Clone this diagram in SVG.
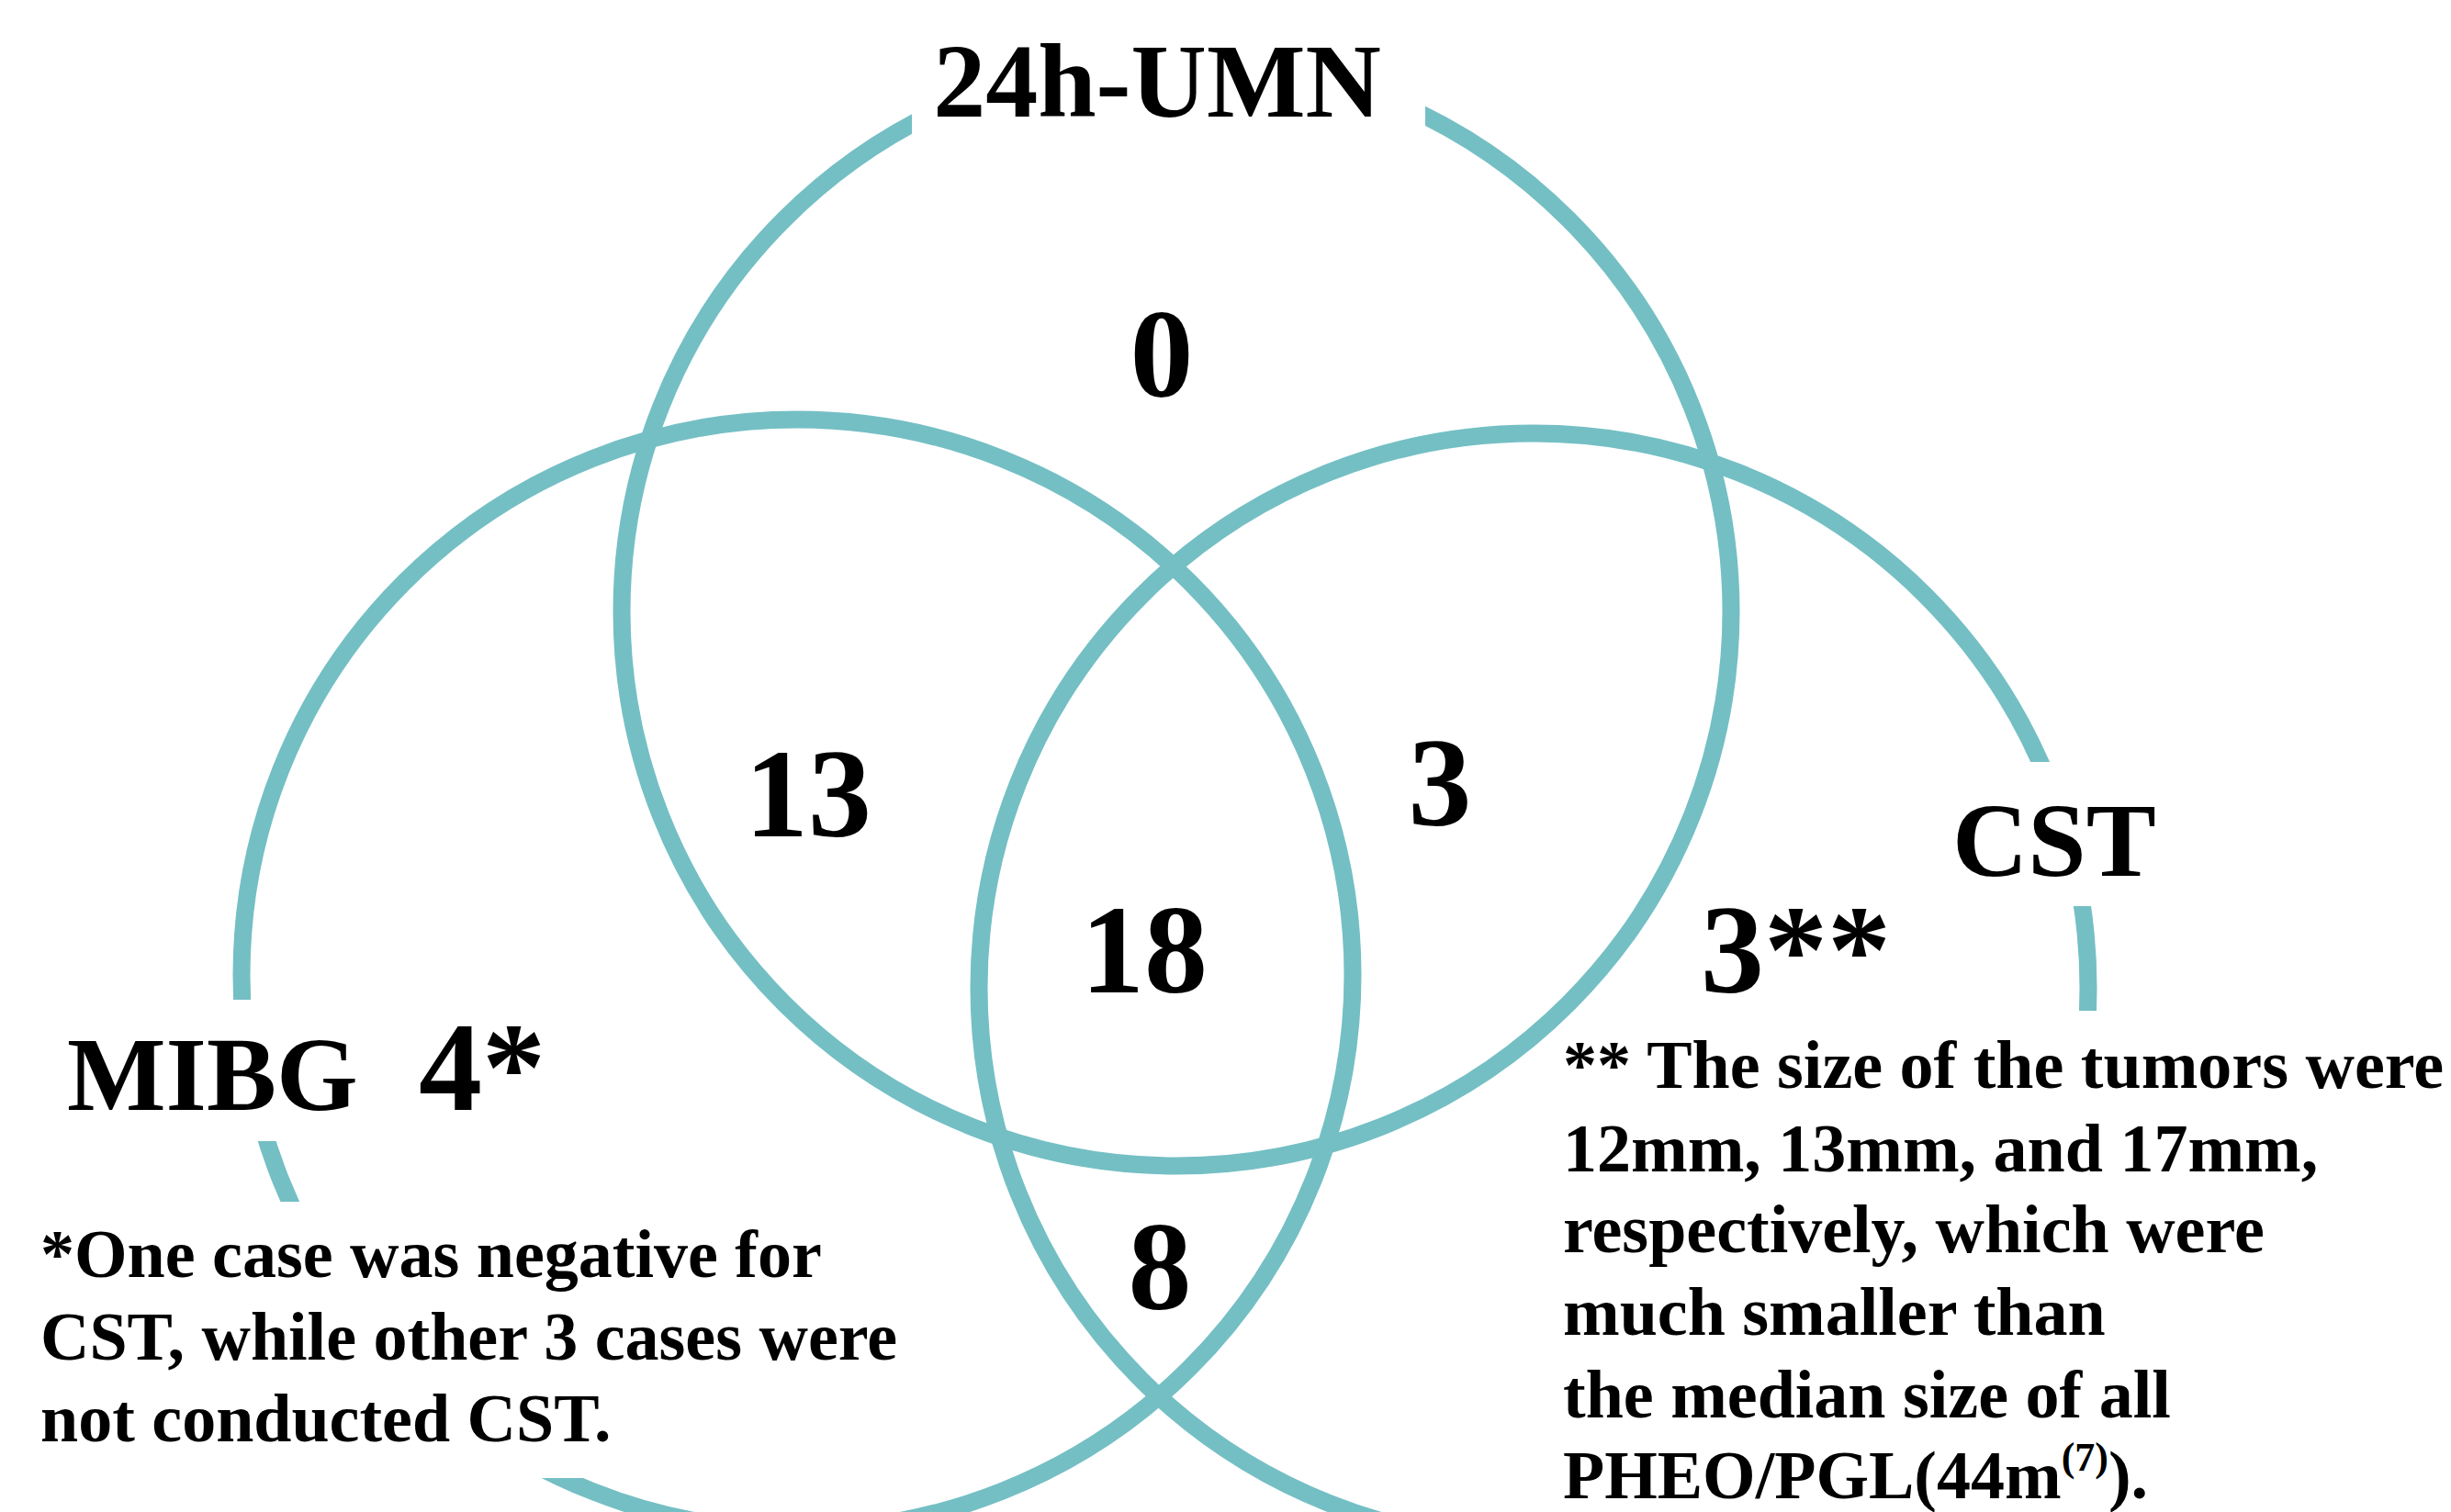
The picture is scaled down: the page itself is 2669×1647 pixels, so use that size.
<svg xmlns="http://www.w3.org/2000/svg" width="2669" height="1647" viewBox="0 0 2669 1647">
<style>
.ring{fill:none;stroke:#74BFC4;stroke-width:19}
.gap{fill:#FFFFFF}
.t{font-family:"Liberation Serif","Times New Roman",serif;font-weight:700;fill:#000000}
.lbl{font-size:114px}
.num{font-size:138px;text-anchor:middle}
.note{font-size:74px}
</style>
<rect x="0" y="0" width="2669" height="1647" fill="#FFFFFF"/>
<g id="circles">
<circle id="umn-circle" class="ring" cx="1281" cy="666" r="604"/>
<circle id="mibg-circle" class="ring" cx="868" cy="1062" r="605"/>
<circle id="cst-circle" class="ring" cx="1670" cy="1076" r="604"/>
</g>
<g id="label-gaps">
<rect class="gap" x="993" y="0" width="559" height="200"/>
<rect class="gap" x="40" y="1089" width="560" height="154"/>
<rect class="gap" x="0" y="1309" width="1000" height="301"/>
<rect class="gap" x="2100" y="830" width="300" height="157"/>
<rect class="gap" x="2150" y="1101" width="519" height="546"/>
<rect class="gap" x="1700" y="1126" width="969" height="521"/>
</g>
<g id="node-umn">
<text class="t lbl" x="1260" y="127" text-anchor="middle">24h-UMN</text>
<text class="t num" x="1265" y="432">0</text>
</g>
<g id="node-mibg">
<text class="t lbl" x="73" y="1209">MIBG</text>
<text class="t" x="456" y="1209" font-size="138">4*</text>
<text class="t note" x="44" y="1391">*One case was negative for</text>
<text class="t note" x="44" y="1481">CST, while other 3 cases were</text>
<text class="t note" x="44" y="1570">not conducted CST.</text>
</g>
<g id="node-cst">
<text class="t lbl" x="2126" y="954">CST</text>
<text class="t" x="1852" y="1081" font-size="138">3**</text>
<text class="t note" x="1702" y="1185">** The size of the tumors were</text>
<text class="t note" x="1702" y="1276">12mm, 13mm, and 17mm,</text>
<text class="t note" x="1702" y="1364">respectively, which were</text>
<text class="t note" x="1702" y="1454">much smaller than</text>
<text class="t note" x="1702" y="1544">the median size of all</text>
<text class="t note" x="1702" y="1632">PHEO/PGL(44m<tspan font-size="44" dy="-30">(7)</tspan><tspan dy="30">).</tspan></text>
</g>
<g id="overlaps">
<text class="t num" x="880" y="911">13</text>
<text class="t num" x="1568" y="899">3</text>
<text class="t num" x="1246" y="1081">18</text>
<text class="t num" x="1263" y="1426">8</text>
</g>
</svg>
